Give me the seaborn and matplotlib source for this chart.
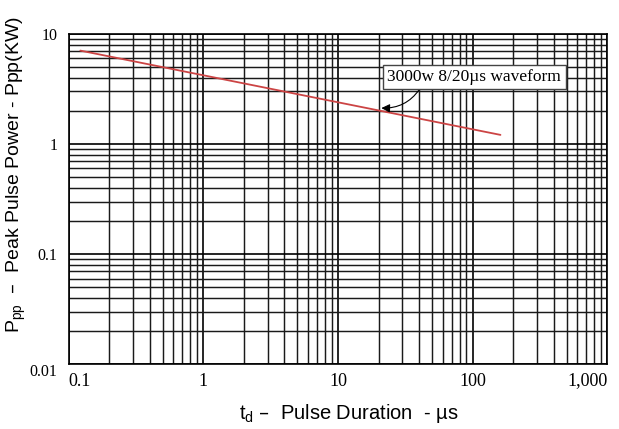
import pandas as pd
import matplotlib
matplotlib.use('Agg')
import matplotlib.pyplot as plt
import seaborn as sns

# curve (pulse duration in us, peak power in kW)
duration_us = [0.122, 161]
power_kw = [7.05, 1.21]

x_ticks = [0.1, 1, 10, 100, 1000]
x_labels = ['0.1', '1', '10', '100', '1,000']
y_ticks = [0.01, 0.1, 1, 10]
y_labels = ['0.01', '0.1', '1', '10']

data = pd.DataFrame({'Duration': duration_us, 'Power': power_kw})

sns.set_theme(style='white')
plt.rcParams['font.family'] = ['Liberation Sans', 'DejaVu Sans']

fig = plt.figure(figsize=(6.19, 4.29), dpi=100)
ax = fig.add_axes([0.111, 0.151, 0.870, 0.770])

sns.lineplot(x='Duration', y='Power', data=data, color='#cc4444', linewidth=1.3, ax=ax)

ax.set_xscale('log')
ax.set_yscale('log')
ax.set_xlim(0.1, 1000)
ax.set_ylim(0.01, 10)

ax.grid(True, which='major', color='#000000', linewidth=1.2)
ax.grid(True, which='minor', color='#1a1a1a', linewidth=1.05)
for s in ax.spines.values():
    s.set_color('#000000')
    s.set_linewidth(1.2)

ax.set_xticks(x_ticks)
ax.set_xticklabels(x_labels, family=['Liberation Serif'], fontsize=13, color='black')
ax.set_yticks(y_ticks)
ax.set_yticklabels(y_labels, family=['Liberation Serif'], fontsize=11.5, color='black')
ax.tick_params(which='both', length=0)
ax.tick_params(axis='x', pad=6)
ax.tick_params(axis='y', pad=8)
xl = ax.get_xticklabels()
xl[0].set_ha('left')
xl[-1].set_ha('right')
yl = ax.get_yticklabels()
yl[0].set_va('top')

ax.set_xlabel('t$_\\mathregular{d}$ –  Pulse Duration  - µs', fontsize=14.5, color='black')
ax.xaxis.set_label_coords(0.52, -0.115)
ax.set_ylabel('P$_\\mathregular{pp}$  –  Peak Pulse Power - Ppp(KW)', fontsize=14, color='black')
ax.yaxis.set_label_coords(-0.076, 0.575)

ax.annotate('3000w 8/20µs waveform', xy=(21, 2.12), xytext=(103, 4.07),
            fontsize=12.5, family=['Liberation Serif'], ha='center', va='center', color='black',
            bbox=dict(boxstyle='square,pad=0.25', fc='white', ec='#444444', lw=1.0),
            arrowprops=dict(arrowstyle='-|>', color='black', lw=0.8, relpos=(0.2, 0),
                            connectionstyle='arc3,rad=-0.3', shrinkA=0, shrinkB=0))

fig.savefig('out.png', dpi=100)
